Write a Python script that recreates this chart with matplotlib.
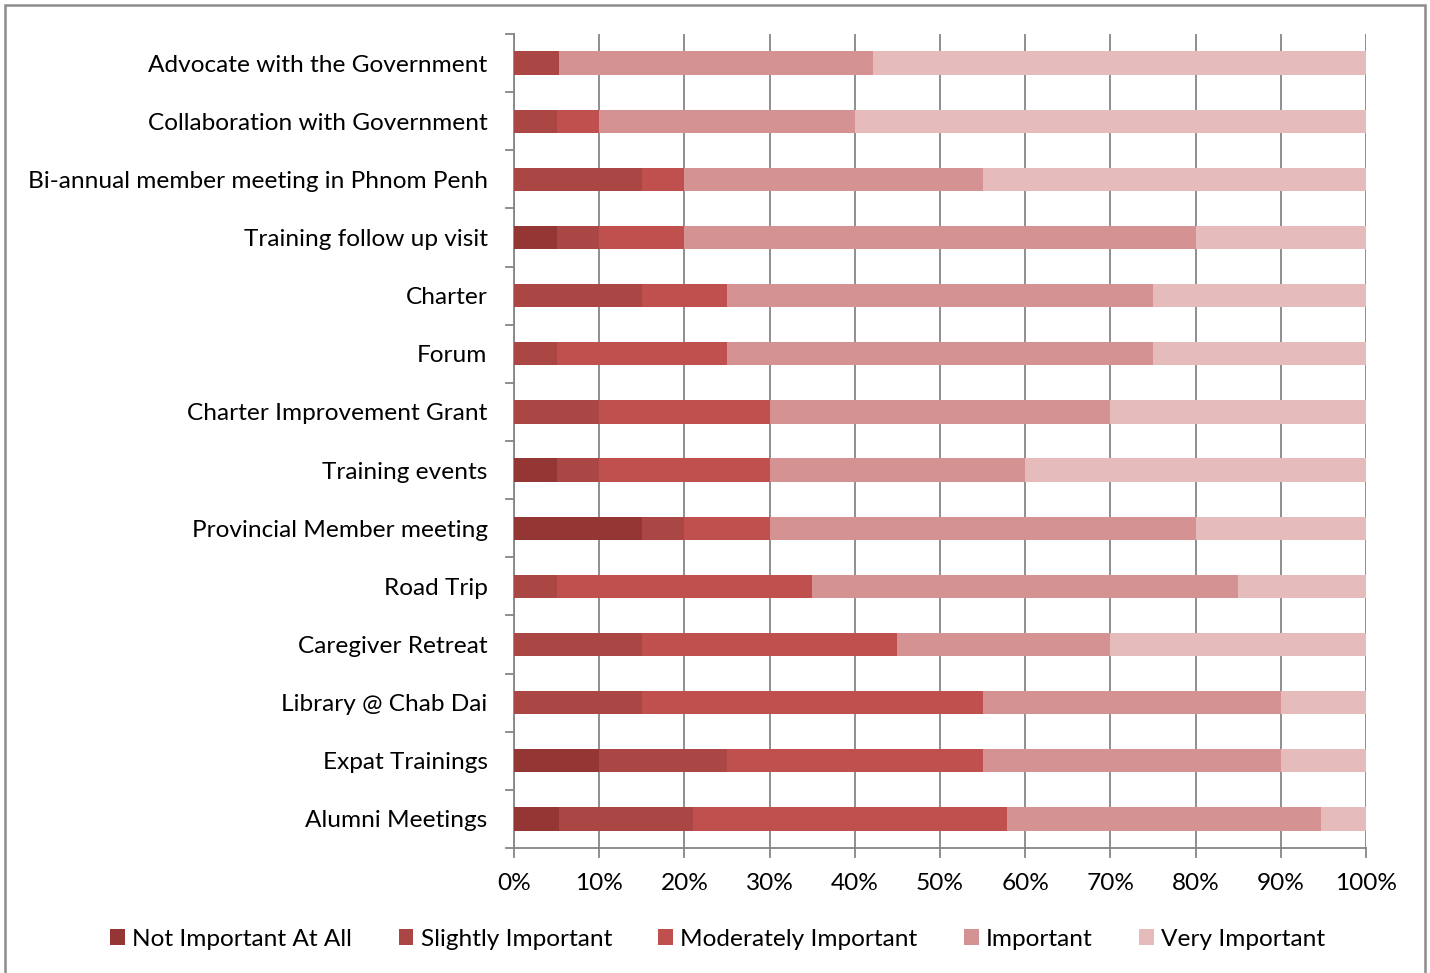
import numpy as np
import matplotlib.pyplot as plt
from matplotlib.patches import Rectangle

plt.rcParams['font.family'] = ['Lato', 'DejaVu Sans']

# Survey items, top to bottom
items = [
    "Advocate with the Government",
    "Collaboration with Government",
    "Bi-annual member meeting in Phnom Penh",
    "Training follow up visit",
    "Charter",
    "Forum",
    "Charter Improvement Grant",
    "Training events",
    "Provincial Member meeting",
    "Road Trip",
    "Caregiver Retreat",
    "Library @ Chab Dai",
    "Expat Trainings",
    "Alumni Meetings",
]

levels = ["Not Important At All", "Slightly Important", "Moderately Important",
          "Important", "Very Important"]

# percentage of responses per item
not_important = [0, 0, 0, 5, 0, 0, 0, 5, 15, 0, 0, 0, 10, 5.26]
slightly = [5.26, 5, 15, 5, 15, 5, 10, 5, 5, 5, 15, 15, 15, 15.79]
moderately = [0, 5, 5, 10, 10, 20, 20, 20, 10, 30, 30, 40, 30, 36.84]
important = [36.84, 30, 35, 60, 50, 50, 40, 30, 50, 50, 25, 35, 35, 36.84]
very = [57.89, 60, 45, 20, 25, 25, 30, 40, 20, 15, 30, 10, 10, 5.26]

colors = ["#943634", "#AA4644", "#C0504D", "#D49392", "#E5BBBB"]

series = [not_important, slightly, moderately, important, very]

fig = plt.figure(figsize=(14.3, 9.73), dpi=100)
ax = fig.add_axes([514 / 1430, 1 - 848 / 973, (1366 - 514) / 1430, (848 - 34) / 973])

y = np.arange(len(items))
left = np.zeros(len(items))
for vals, col, name in zip(series, colors, levels):
    vals = np.array(vals)
    ax.barh(y, vals, left=left, height=0.4, color=col, label=name, zorder=3)
    left += vals

fs = 17.6
ax.set_xlim(0, 100)
ax.set_ylim(len(items) - 0.5, -0.5)
ax.set_xticks(np.arange(0, 101, 10))
ax.set_xticklabels([f"{v}%" for v in range(0, 101, 10)], fontsize=fs)
ax.set_yticks(y)
ax.set_yticklabels(items, fontsize=fs)
ax.tick_params(axis='y', length=0, pad=19)
ax.tick_params(axis='x', length=0, pad=18)

# category separators on the y axis and ticks under the x axis
for b in np.arange(-0.5, len(items), 1.0):
    ax.plot([-0.9, 0], [b, b], color="#868686", lw=1.3, clip_on=False, zorder=4)
for v in range(0, 101, 10):
    ax.plot([v, v], [len(items) - 0.5, len(items) - 0.35], color="#868686",
            lw=1.3, clip_on=False, zorder=4)

ax.grid(axis='x', color="#868686", lw=1.3, zorder=0)
for s in ['top', 'right']:
    ax.spines[s].set_visible(False)
for s in ['left', 'bottom']:
    ax.spines[s].set_color("#868686")
    ax.spines[s].set_linewidth(1.3)

leg = fig.legend(loc='center', bbox_to_anchor=(0.502, 1 - 939 / 973), ncol=5,
                 frameon=False, fontsize=fs, handlelength=0.6, handleheight=0.6,
                 handletextpad=0.3, columnspacing=1.9)

# outer frame
fig.patches.append(Rectangle((5 / 1430, -0.02), 1420 / 1430, 1 - 5 / 973 + 0.02,
                             transform=fig.transFigure, fill=False,
                             edgecolor="#8c8c8c", lw=1.8))

fig.savefig("out.png", dpi=100)
